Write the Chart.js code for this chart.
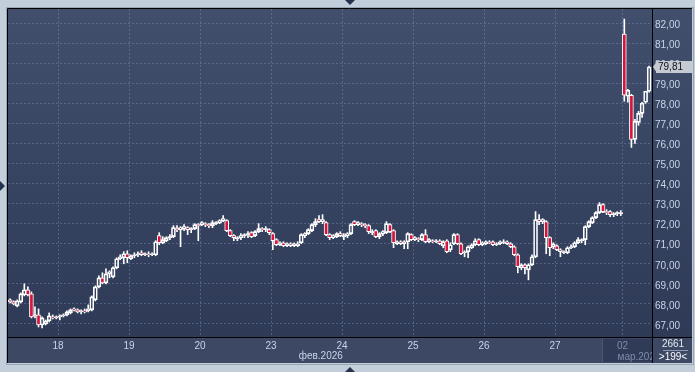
<!DOCTYPE html>
<html>
<head>
<meta charset="utf-8">
<script src="https://cdn.jsdelivr.net/npm/chart.js@4.4.1/dist/chart.umd.min.js"></script>
<style>
  html,body{margin:0;padding:0;background:#c3cedb;overflow:hidden}
  canvas{display:block}
</style>
</head>
<body>
<canvas id="chKurs" width="695" height="372"></canvas>
<script>
/* ---- data: hourly candles, 17 фев .. 02 мар ---- */
const opens = [
  68.2,68.1,67.9,68.1,68.45,68.7,68.5,67.4,67.45,66.95,
  67.0,67.15,67.35,67.3,67.35,67.4,67.45,67.55,67.75,67.7,
  67.6,67.65,67.65,67.7,68.2,68.85,69.3,69.05,69.5,69.35,
  69.8,70.25,70.3,70.5,70.25,70.4,70.45,70.55,70.45,70.5,
  70.45,70.45,71.4,71.05,71.15,71.3,71.35,71.75,71.7,71.75,
  71.8,71.7,71.75,71.95,71.95,72.0,71.95,71.9,72.0,72.05,
  72.15,72.15,71.65,71.4,71.25,71.3,71.4,71.45,71.55,71.4,
  71.6,71.75,71.7,71.7,71.5,71.2,70.95,71.05,70.9,71.0,
  70.9,70.9,71.05,71.4,71.5,71.65,71.95,72.2,72.1,72.05,
  71.45,71.3,71.35,71.5,71.35,71.4,71.5,72.1,71.95,72.0,
  71.95,71.9,71.55,71.65,71.35,71.5,71.55,71.95,71.65,71.0,
  71.1,71.0,71.1,71.45,71.2,71.25,71.2,71.45,71.1,71.15,
  71.1,71.15,70.9,71.15,70.7,71.0,71.45,71.0,70.55,70.6,
  70.8,70.95,71.2,70.95,71.0,71.1,71.1,70.95,71.0,71.05,
  71.1,71.0,70.85,70.45,69.8,69.95,69.7,69.95,70.35,72.2,
  72.1,72.1,71.3,70.85,70.9,70.7,70.55,70.55,70.8,70.85,
  71.05,71.15,71.2,71.85,72.05,72.3,72.55,72.95,72.6,72.6,
  72.45,72.5,72.5,81.45,78.35,78.4,76.2,77.05,77.5,78.05,78.6
];
const highs = [
  68.25,68.15,68.2,68.55,69.0,68.85,68.6,67.85,67.75,67.35,
  67.2,67.55,67.45,67.4,67.45,67.5,67.65,67.75,67.8,67.75,
  67.7,67.75,67.95,68.4,68.9,69.4,69.55,69.75,69.65,69.85,
  70.3,70.45,70.6,70.65,70.45,70.55,70.6,70.65,70.55,70.6,
  70.55,71.15,71.55,71.35,71.35,71.45,71.9,71.9,71.85,71.95,
  71.85,71.8,72.0,72.0,72.1,72.05,72.0,72.15,72.1,72.2,
  72.4,72.2,71.7,71.45,71.35,71.5,71.5,71.6,71.6,71.65,
  72.0,71.8,71.85,71.75,71.55,71.25,71.1,71.1,71.05,71.05,
  71.05,71.1,71.5,71.55,71.75,72.0,72.25,72.4,72.45,72.1,
  71.5,71.45,71.55,71.6,71.5,71.55,72.0,72.15,72.1,72.05,
  72.0,71.95,71.7,71.7,71.55,71.65,72.1,72.0,71.7,71.15,
  71.15,71.15,71.55,71.5,71.35,71.3,71.5,71.7,71.25,71.2,
  71.2,71.2,71.15,71.2,71.05,71.5,71.5,71.05,70.65,70.9,
  71.0,71.25,71.25,71.1,71.15,71.15,71.15,71.05,71.15,71.2,
  71.15,71.05,70.9,70.5,70.0,70.0,70.0,70.45,72.6,72.45,
  72.25,72.15,71.35,71.05,70.95,70.75,70.65,70.85,70.95,71.1,
  71.3,71.25,71.9,72.15,72.35,72.6,73.05,73.0,72.7,72.65,
  72.55,72.6,72.65,82.2,78.7,78.45,77.2,77.6,78.05,78.6,79.85
];
const lows = [
  68.05,67.95,67.85,68.05,68.4,68.4,67.3,67.3,66.85,66.8,
  66.95,67.1,67.25,67.25,67.2,67.35,67.4,67.5,67.65,67.55,
  67.5,67.55,67.6,67.65,68.15,68.8,69.0,69.0,69.3,69.3,
  69.75,70.2,70.0,70.05,70.2,70.3,70.35,70.4,70.4,70.35,
  70.4,70.4,70.95,71.0,71.1,71.2,71.3,71.6,70.85,71.65,
  71.45,71.55,71.7,71.15,71.9,71.85,71.8,71.8,71.95,72.0,
  72.1,71.6,71.35,71.15,71.15,71.2,71.3,71.3,71.3,71.35,
  71.55,71.6,71.6,71.45,70.7,70.9,70.9,70.85,70.85,70.85,
  70.85,70.85,71.0,71.3,71.45,71.6,71.85,72.05,72.0,71.4,
  71.2,71.25,71.3,71.35,71.2,71.3,71.45,71.9,71.9,71.85,
  71.8,71.5,71.45,71.3,71.25,71.4,71.5,71.55,70.8,70.95,
  70.95,70.75,70.75,71.15,71.15,71.1,71.15,71.05,71.05,71.05,
  71.05,70.95,70.8,70.55,70.6,70.95,70.95,70.45,70.35,70.3,
  70.75,70.9,70.9,70.9,70.95,71.0,70.9,70.9,70.95,71.0,
  70.95,70.8,70.4,69.55,69.7,69.5,69.2,69.9,70.3,71.95,
  72.0,70.5,70.4,70.75,70.65,70.35,70.5,70.5,70.75,70.8,
  71.0,71.05,70.95,71.8,72.0,72.25,72.5,72.55,72.45,72.35,
  72.35,72.4,72.4,78.1,78.05,75.8,76.0,76.9,77.3,78.0,78.55
];
const closes = [
  68.1,68.0,68.15,68.5,68.7,68.45,67.35,67.45,66.95,67.3,
  67.15,67.4,67.3,67.35,67.4,67.45,67.6,67.7,67.7,67.6,
  67.65,67.6,67.75,68.35,68.85,69.3,69.05,69.5,69.6,69.8,
  70.25,70.35,70.5,70.3,70.4,70.45,70.5,70.45,70.5,70.45,
  70.5,71.1,71.05,71.2,71.3,71.35,71.8,71.7,71.8,71.85,
  71.7,71.75,71.95,71.9,72.05,71.95,71.9,72.05,72.05,72.15,
  72.25,71.65,71.4,71.3,71.3,71.4,71.45,71.5,71.35,71.6,
  71.75,71.7,71.75,71.55,71.15,70.95,71.05,70.9,71.0,70.9,
  71.0,71.0,71.45,71.5,71.7,71.95,72.1,72.1,72.2,71.45,
  71.3,71.4,71.5,71.4,71.4,71.5,71.95,71.95,72.05,71.95,
  71.9,71.6,71.6,71.35,71.5,71.6,72.0,71.6,71.05,71.1,
  71.0,71.1,71.5,71.2,71.3,71.2,71.45,71.1,71.2,71.1,
  71.15,71.0,71.1,70.6,70.95,71.45,71.0,70.5,70.6,70.85,
  70.95,71.15,70.95,71.05,71.1,71.05,70.95,71.0,71.1,71.1,
  71.0,70.85,70.45,69.85,69.95,69.8,69.95,70.35,72.2,72.1,
  72.2,71.3,70.8,71.0,70.7,70.6,70.6,70.8,70.85,71.05,
  71.2,71.2,71.85,72.1,72.3,72.55,72.95,72.6,72.55,72.45,
  72.5,72.55,72.55,78.4,78.65,76.2,77.1,77.5,78.0,78.6,79.81
];
const dayTicks  = [13.5,33.5,53.5,73.5,93.5,113.5,133.5,153.5,172.5];
const dayLabels = ['18','19','20','23','24','25','26','27','02'];
const priceTicks = [67,68,69,70,71,72,73,74,75,76,77,78,79,80,81,82];
const monthNames = ['фев.2026','мар.2026'];
const monthAt    = [87.5, 172.5];
const infoTop = '2661', infoBottom = '>199<';

const fmt = v => v.toFixed(2).replace('.', ',');
const FONT = 'Liberation Sans, Arial, sans-serif';
const teks = '#c8d4e8', teksRedup = '#7d8bab';
const garis = 'rgba(125,145,185,0.45)';

/* ---- candles: body + upper/lower wick as floating bars ---- */
const bodies = opens.map((o,i) => ({x:i, y:[o, closes[i]]}));
const wickUp = opens.map((o,i) => ({x:i, y:[Math.max(o, closes[i]), highs[i]]}));
const wickDn = opens.map((o,i) => ({x:i, y:[lows[i], Math.min(o, closes[i])]}));
const isiBody = opens.map((o,i) => closes[i] < o ? '#d8143c' : 'rgba(0,0,0,0)');

function segitiga(ctx, pts){
  ctx.beginPath(); ctx.moveTo(pts[0], pts[1]); ctx.lineTo(pts[2], pts[3]); ctx.lineTo(pts[4], pts[5]);
  ctx.closePath(); ctx.fill();
}

const bingkai = {
  id:'bingkai',
  beforeDraw(chart){
    const {ctx, chartArea:a} = chart;
    const xs = chart.scales.x, ys = chart.scales.y;
    ctx.save();
    ctx.fillStyle = '#c3cedb'; ctx.fillRect(0, 0, chart.width, chart.height);
    const g = ctx.createLinearGradient(0, a.top, 0, a.bottom);
    g.addColorStop(0, '#414f6d'); g.addColorStop(1, '#2e3a56');
    ctx.fillStyle = g; ctx.fillRect(a.left, a.top, ys.right - a.left, a.bottom - a.top);
    ctx.fillStyle = '#3c4864'; ctx.fillRect(a.left, a.bottom, ys.right - a.left, xs.bottom - a.bottom);
    // sorotan hari terakhir di sumbu x
    const hx = Math.round(xs.getPixelForValue(dayTicks[dayTicks.length-1])) - 20;
    ctx.fillStyle = '#303b57'; ctx.fillRect(hx, a.bottom + 2, a.right - hx, xs.bottom - a.bottom - 3);
    ctx.fillStyle = '#4a5672'; ctx.fillRect(hx - 1, a.bottom + 2, 1, xs.bottom - a.bottom - 3);
    ctx.restore();
  },
  afterDraw(chart){
    const {ctx, chartArea:a} = chart;
    const xs = chart.scales.x, ys = chart.scales.y;
    ctx.save();
    // garis tepi
    ctx.strokeStyle = '#9aa6b8'; ctx.lineWidth = 1;
    ctx.strokeRect(a.left - 1.5, a.top - 1.5, ys.right - a.left + 3, xs.bottom - a.top + 3);
    ctx.strokeStyle = '#000';
    ctx.beginPath();
    ctx.moveTo(a.left - 0.5, xs.bottom); ctx.lineTo(a.left - 0.5, a.top - 0.5); ctx.lineTo(ys.right, a.top - 0.5);
    ctx.moveTo(a.left, a.bottom + 0.5); ctx.lineTo(ys.right, a.bottom + 0.5);
    ctx.moveTo(a.right + 0.5, a.top); ctx.lineTo(a.right + 0.5, xs.bottom);
    ctx.stroke();

    // label bulan
    ctx.font = '10px ' + FONT; ctx.textBaseline = 'middle';
    ctx.textAlign = 'center'; ctx.fillStyle = teks;
    ctx.fillText(monthNames[0], xs.getPixelForValue(monthAt[0]), a.bottom + 19);
    ctx.save();
    ctx.beginPath(); ctx.rect(a.left, a.bottom + 1, a.right - a.left, xs.bottom - a.bottom); ctx.clip();
    ctx.textAlign = 'left'; ctx.fillStyle = teksRedup;
    ctx.fillText(monthNames[1], xs.getPixelForValue(monthAt[1]) - 5, a.bottom + 20);
    ctx.restore();

    // kotak info kanan bawah
    const cx = (a.right + ys.right) / 2 + 1;
    ctx.textAlign = 'center'; ctx.fillStyle = '#e4eaf4';
    ctx.fillText(infoTop, cx, a.bottom + 7);
    ctx.fillStyle = '#8e9ab0'; ctx.fillRect(a.right + 11, a.bottom + 13, 25, 1);
    ctx.fillStyle = '#ffffff';
    ctx.fillText(infoBottom, cx, a.bottom + 20);

    // label harga terakhir
    const last = closes[closes.length - 1];
    const py = Math.round(ys.getPixelForValue(last));
    ctx.fillStyle = '#c5cbd2';
    ctx.fillRect(a.right + 4, py - 6, ys.right - a.right - 4, 12);
    segitiga(ctx, [a.right + 1, py, a.right + 5, py - 6, a.right + 5, py + 6]);
    ctx.fillStyle = '#111'; ctx.textAlign = 'left';
    ctx.fillText(fmt(last), a.right + 6, py + 0.5);

    // panah kecil di tepi
    ctx.fillStyle = '#24324e';
    segitiga(ctx, [345, 0, 355, 0, 350, 5]);
    segitiga(ctx, [0, 181, 0, 191, 5, 186]);
    segitiga(ctx, [345, 372, 355, 372, 350, 367]);
    ctx.restore();
  }
};

new Chart(document.getElementById('chKurs'), {
  type:'bar',
  data:{datasets:[
    {data:bodies, backgroundColor:isiBody, borderColor:'#ffffff', borderWidth:1, borderSkipped:false,
     barThickness:4, grouped:false, order:0},
    {data:wickUp, backgroundColor:'#ffffff', borderWidth:0, barThickness:1, grouped:false, order:1},
    {data:wickDn, backgroundColor:'#ffffff', borderWidth:0, barThickness:1, grouped:false, order:1}
  ]},
  options:{
    responsive:false, animation:false, devicePixelRatio:1,
    layout:{padding:{left:8, top:8, right:3, bottom:9}},
    plugins:{legend:{display:false}, tooltip:{enabled:false}},
    scales:{
      x:{type:'linear', min:-0.6, max:180.8, offset:false,
        afterBuildTicks: s => { s.ticks = dayTicks.map(v => ({value:v})); },
        afterFit: s => { s.height = 26; },
        grid:{color:garis, drawTicks:false, offset:false},
        border:{display:false, dash:[2,2]},
        ticks:{autoSkip:false, maxRotation:0, padding:3,
          color: c => c.index === dayLabels.length - 1 ? teksRedup : teks,
          font:{family:FONT, size:10},
          callback:(v, i) => dayLabels[i]}},
      y:{position:'right', min:66.35, max:82.7, beginAtZero:false,
        afterBuildTicks: s => { s.ticks = priceTicks.map(v => ({value:v})); },
        afterFit: s => { s.width = 40; },
        grid:{color:garis, drawTicks:false},
        border:{display:false, dash:[2,2]},
        ticks:{padding:3, labelOffset:2, color:teks, font:{family:FONT, size:10},
          callback: v => fmt(v)}}
    }
  },
  plugins:[bingkai]
});
</script>
</body>
</html>
